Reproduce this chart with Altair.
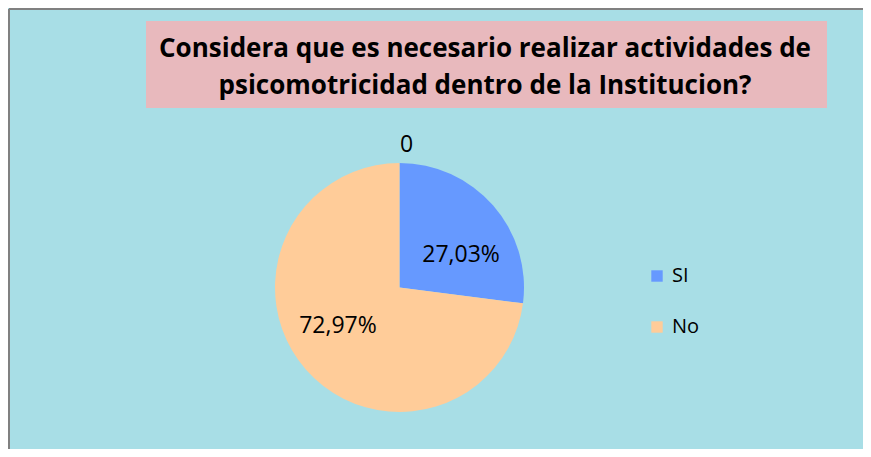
import altair as alt
import pandas as pd

categories = ["SI", "No"]
values = [27.03, 72.97]
labels = ["27,03%", "72,97%"]
colors = ["#6699FF", "#FFCC99"]
title_lines = ["Considera que es necesario realizar actividades de",
               "psicomotricidad dentro de la Institucion?"]
zero_label = "0"

df = pd.DataFrame({"cat": categories, "value": values, "label": labels,
                   "idx": list(range(len(categories)))})

CX, CY, R = 390.5, 278.5, 124.5
W, H = 855, 441
FONT = "Open Sans"

base = alt.Chart(df)

pie = base.mark_arc(outerRadius=R, stroke=None).encode(
    theta=alt.Theta("value:Q", stack=True),
    order=alt.Order("idx:Q"),
    color=alt.Color("cat:N", scale=alt.Scale(domain=categories, range=colors),
                    sort=categories,
                    legend=alt.Legend(title=None, orient="none", legendX=638, legendY=257,
                                      symbolType="square", symbolSize=130,
                                      labelFontSize=20, labelFont=FONT,
                                      labelColor="#000000", rowPadding=31,
                                      symbolStrokeWidth=0, labelOffset=5)),
    x=alt.value(CX), y=alt.value(CY),
)

text = base.transform_joinaggregate(total="sum(value)").transform_window(
    cum="sum(value)", sort=[alt.SortField("idx")]
).transform_calculate(
    a="(datum.cum - datum.value/2)/datum.total*2*PI + 0.2",
    px=f"{CX} + 71*sin(datum.a)",
    py=f"{CY} - 71*cos(datum.a) + 3",
).mark_text(fontSize=23, font=FONT, color="#000000").encode(
    x=alt.X("px:Q", scale=None), y=alt.Y("py:Q", scale=None), text="label:N"
)

zero = alt.Chart(pd.DataFrame({"t": [zero_label]})).mark_text(
    fontSize=23, font=FONT, color="#000000").encode(
    x=alt.value(CX + 7), y=alt.value(CY - 143), text="t:N")

title_box = alt.Chart(pd.DataFrame({"a": [0]})).mark_rect(
    color="#E8B9BD").encode(x=alt.value(137), x2=alt.value(818),
                            y=alt.value(12), y2=alt.value(99))

tdf = pd.DataFrame({"t": ["\n".join(title_lines)]})
title_text = alt.Chart(tdf).mark_text(
    fontSize=26, font=FONT, fontWeight="bold", color="#000000",
    lineBreak="\n", lineHeight=37, baseline="middle").encode(
    x=alt.value(476), y=alt.value(40), text="t:N")

border_l = alt.Chart(pd.DataFrame({"a": [0]})).mark_rule(
    color="#808080", strokeWidth=2).encode(x=alt.value(0), y=alt.value(0), y2=alt.value(H))
border_t = alt.Chart(pd.DataFrame({"a": [0]})).mark_rule(
    color="#808080", strokeWidth=2).encode(x=alt.value(0), x2=alt.value(W), y=alt.value(0))

chart = alt.layer(title_box, title_text, pie, text, zero, border_l, border_t).properties(
    width=W, height=H, background="#A8DEE6",
    autosize=alt.AutoSizeParams(type="fit", contains="padding"), padding=0
).configure_view(stroke=None)

chart.save("out.html", embed_options={"renderer": "svg", "actions": False})
